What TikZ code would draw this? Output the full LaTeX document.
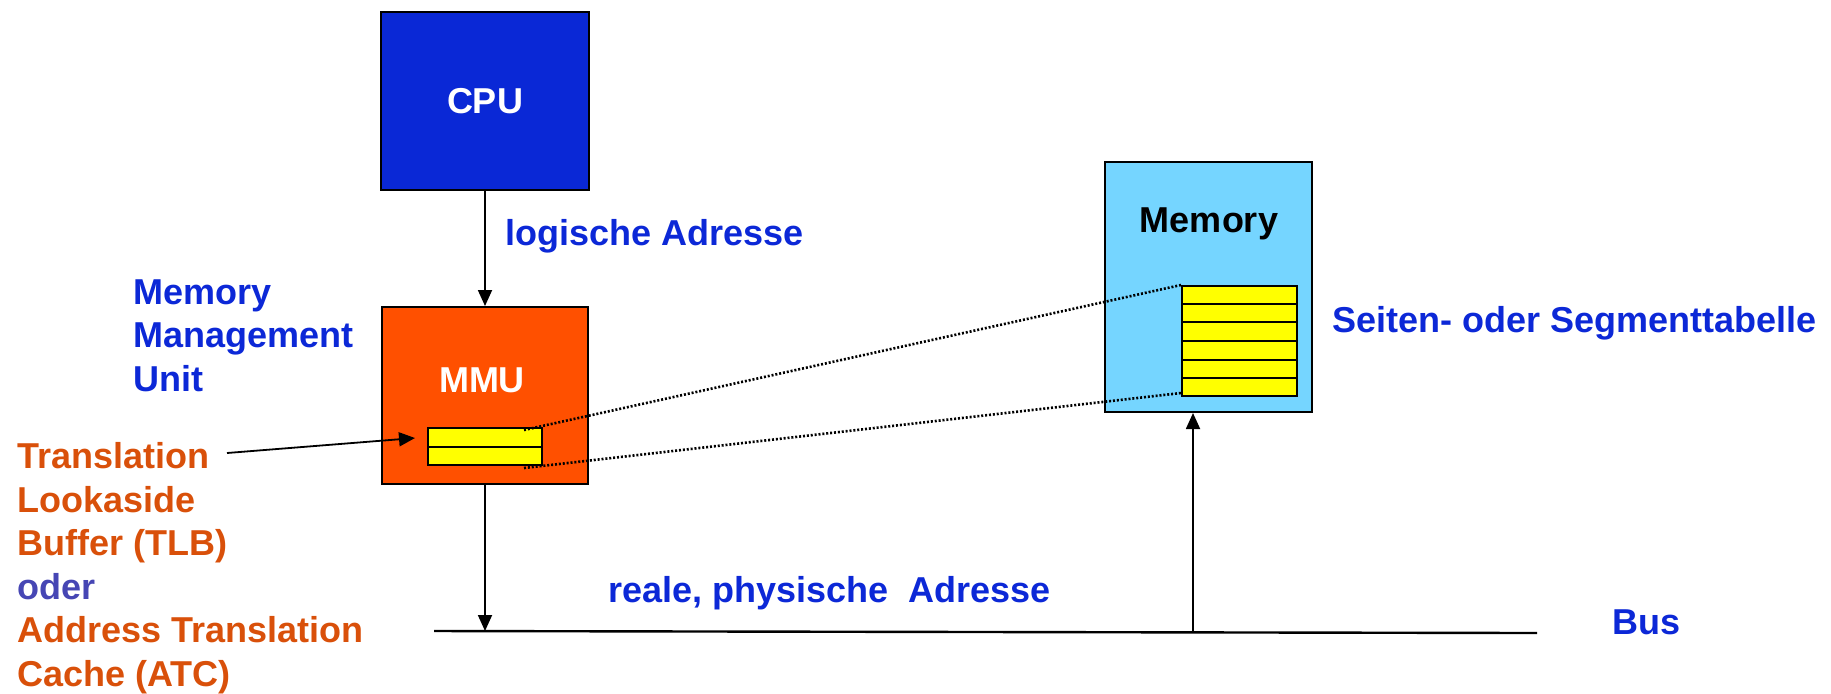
\documentclass[tikz,border=0pt]{standalone}
\usepackage{fontspec}
\setmainfont{Liberation Sans}
\usetikzlibrary{arrows.meta,calc}
\definecolor{cpublue}{RGB}{10,40,214}
\definecolor{txtblue}{RGB}{12,40,215}
\definecolor{mmuorange}{RGB}{255,80,0}
\definecolor{tlborange}{RGB}{217,80,10}
\definecolor{oderblue}{RGB}{70,70,180}
\definecolor{memblue}{RGB}{117,213,255}
\definecolor{tabyellow}{RGB}{255,255,0}

\begin{document}
\begin{tikzpicture}[x=0.5pt,y=-0.5pt,>={Triangle[length=8pt,width=7pt]},
  box/.style={draw=black,line width=1pt,inner sep=0pt},
  lbl/.style={font=\bfseries\fontsize{18}{21.75}\selectfont,inner sep=0pt},
  wire/.style={line width=0.9pt},
  dots/.style={line width=1.3pt,dash pattern=on 1pt off 0.95pt}]
\useasboundingbox (0,0) rectangle (1831,693);
\node[box,fill=cpublue,minimum width=104pt,minimum height=89pt,lbl,text=white] (cpu) at (485,101) {CPU};
\node[box,fill=mmuorange,minimum width=103pt,minimum height=88.5pt] (mmu) at (485,395.5) {};
\node[lbl,text=white,anchor=base] (mmutxt) at (482,392) {MMU};
\node[box,fill=tabyellow,minimum width=57pt,minimum height=18.5pt] (tlb) at (485,446.5) {};
\draw[line width=1pt] (tlb.west) -- (tlb.east);
\node[box,fill=memblue,minimum width=103.5pt,minimum height=125pt] (mem) at (1208.5,287) {};
\node[lbl,anchor=base] (memtxt) at (1209,232) {Memory};
\node[box,fill=tabyellow,minimum width=57.5pt,minimum height=55pt] (tab) at (1239.5,341) {};
\foreach \k in {1,...,5}{\draw[line width=1pt] ($(tab.north west)!\k/6!(tab.south west)$) -- ($(tab.north east)!\k/6!(tab.south east)$);}
\draw[dots] ([xshift=-9.5pt,yshift=-1.5pt]tlb.north east) -- (tab.north west);
\draw[dots] ([xshift=-9.5pt,yshift=-1pt]tlb.south east) -- ([yshift=2pt]tab.south west);
\coordinate (busL) at (434,631);
\coordinate (busR) at (1537,633);
\coordinate (busM) at (1193,632);
\draw[line width=1.2pt] (busL) -- (busR);
\draw[wire,->] (cpu.south) -- (mmu.north);
\draw[wire,->] (mmu.south) -- (mmu.south |- busL);
\draw[wire,->] (busM) -- (busM |- mem.south);
\coordinate (tlbtail) at (227,453);
\draw[wire,->] (tlbtail) -- ([xshift=-6pt,yshift=4.25pt]tlb.west);
\node[lbl,text=txtblue,anchor=base west] (logaddr) at (505,245) {logische Adresse};
\node[lbl,text=txtblue,anchor=base west] (physaddr) at (608,602) {reale, physische\ \ Adresse};
\node[lbl,text=txtblue,anchor=base west] (buslbl) at (1612,634) {Bus};
\node[lbl,text=txtblue,anchor=base west] (tablbl) at (1332,332) {Seiten- oder Segmenttabelle};
\node[lbl,text=txtblue,anchor=north west,align=left] (mmulbl) at (133,279) {Memory\\Management\\Unit};
\node[lbl,text=tlborange,anchor=north west,align=left] (tlblbl) at (17,442) {Translation\\Lookaside\\Buffer (TLB)\\{\color{oderblue}oder}\\Address Translation\\Cache (ATC)};
\end{tikzpicture}
\end{document}
